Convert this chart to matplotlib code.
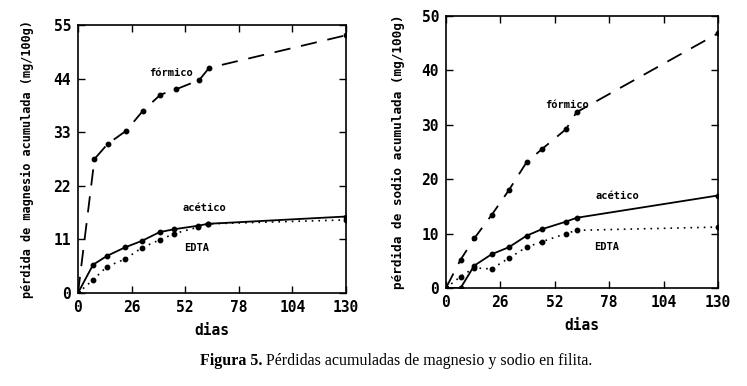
import matplotlib
matplotlib.use('Agg')
import matplotlib.pyplot as plt

# magnesio (left panel)
mg_dias_form = [0, 8, 14.4, 23.4, 31.5, 40, 47.5, 58.8, 63.6, 130]
mg_form = [0, 27.5, 30.6, 33.3, 37.4, 40.7, 41.8, 43.7, 46.2, 52.9]
mg_dias = [0, 7.3, 14, 23, 31, 39.6, 46.8, 58.2, 63, 130]
mg_acet = [0, 5.8, 7.6, 9.4, 10.7, 12.5, 13.1, 13.8, 14.2, 15.7]
mg_edta = [0, 2.7, 5.4, 7.0, 9.3, 10.9, 12.2, 13.5, 14.2, 15.0]

# sodio (right panel)
na_dias = [0, 7, 13.5, 21.8, 30.1, 38.5, 45.8, 57.4, 62.4, 130]
na_form = [0, 5.2, 9.1, 13.4, 18.0, 23.1, 25.5, 29.2, 32.3, 46.8]
na_acet = [0, 0, 4.1, 6.2, 7.5, 9.6, 10.8, 12.2, 12.9, 17.0]
na_edta = [0, 2.1, 3.7, 3.5, 5.5, 7.5, 8.5, 10.0, 10.6, 11.2]

xticks = [0, 26, 52, 78, 104, 130]
mg_yticks = [0, 11, 22, 33, 44, 55]
na_yticks = [0, 10, 20, 30, 40, 50]

mono = 'DejaVu Sans Mono'
fig = plt.figure(figsize=(7.47, 3.86), dpi=100)
ax1 = fig.add_axes([0.1044, 0.2409, 0.3588, 0.6943])
ax2 = fig.add_axes([0.597, 0.2539, 0.3641, 0.7047])

def panel(ax, dias_f, form, dias, acet, edta, yticks, ylab, lsize, lpad):
    ax.plot(dias_f, form, color='black', lw=1.3, ls=(0, (9, 6)),
            marker='o', ms=3.2)
    ax.plot(dias, acet, color='black', lw=1.3, ls='-', marker='o', ms=3.2)
    ax.plot(dias, edta, color='black', lw=1.2, ls=(0, (1, 3)),
            marker='o', ms=3.2)
    ax.set_xlim(0, 130)
    ax.set_ylim(yticks[0], yticks[-1])
    ax.set_xticks(xticks)
    ax.set_yticks(yticks)
    ax.tick_params(direction='in', top=True, right=True, length=5, width=1,
                   labelsize=10.5, pad=5)
    for lab in ax.get_xticklabels() + ax.get_yticklabels():
        lab.set_family(mono)
        lab.set_weight('bold')
    for s in ax.spines.values():
        s.set_linewidth(1.2)
    ax.set_xlabel('dias', family=mono, fontweight='bold', fontsize=10.5,
                  labelpad=6)
    ax.set_ylabel(ylab, family=mono, fontweight='bold', fontsize=lsize,
                  labelpad=lpad)

panel(ax1, mg_dias_form, mg_form, mg_dias, mg_acet, mg_edta, mg_yticks,
      'pérdida de magnesio acumulada (mg/100g)', 8.6, 14)
panel(ax2, na_dias, na_form, na_dias, na_acet, na_edta, na_yticks,
      'pérdida de sodio acumulada (mg/100g)', 9.2, 12)

lab = dict(family=mono, fontweight='bold', fontsize=7.5, ha='center',
           va='center')
ax1.text(45, 45.1, 'fórmico', **lab)
ax1.text(61.5, 17.5, 'acético', **lab)
ax1.text(57.5, 9.3, 'EDTA', **lab)
ax2.text(58, 33.6, 'fórmico', **lab)
ax2.text(82, 16.9, 'acético', **lab)
ax2.text(77, 7.5, 'EDTA', **lab)

fig.canvas.draw()
t1 = fig.text(200 / 747, 1 - 361 / 386, 'Figura 5.', family='Liberation Serif',
              fontweight='bold', fontsize=11.5, va='center', ha='left')
bb = t1.get_window_extent(fig.canvas.get_renderer())
fig.text((bb.x1 + 4) / fig.bbox.width, 1 - 361 / 386,
         'Pérdidas acumuladas de magnesio y sodio en filita.',
         family='Liberation Serif', fontsize=11.5, va='center', ha='left')

fig.savefig('out.png', dpi=100)
